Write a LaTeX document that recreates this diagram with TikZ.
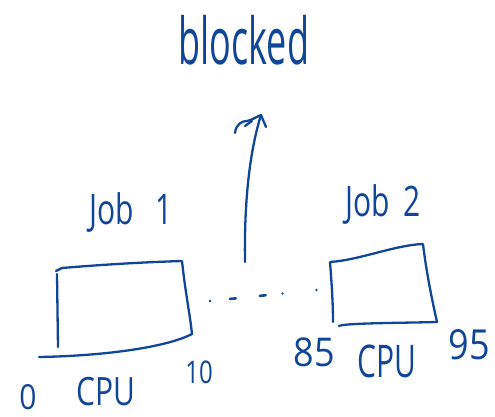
\documentclass[tikz,border=0pt]{standalone}
\usepackage{fontspec}
\setmainfont{Open Sans}
\usetikzlibrary{arrows.meta}
\definecolor{ink}{RGB}{16,70,150}
\newcommand{\hw}[3]{{\fontsize{#1}{#1}\selectfont\scalebox{1}[#2]{#3}}}
\begin{document}
\begin{tikzpicture}[x=1pt,y=-1pt, color=ink, line width=2.3pt, line cap=round, line join=round,
  lbl/.style={text=ink, inner sep=0pt, anchor=center},
  sketch/.style={draw=ink, line width=2.3pt},
  dotline/.style={draw=ink, line width=2.6pt, dash pattern=on 0pt off 20pt on 6pt off 24pt on 6pt off 17pt on 0pt off 34pt on 0pt off 40pt}]
\useasboundingbox (0,0) rectangle (495,417);
% texts
\node[lbl] (blocked) at (244,40) {\hw{36}{1.8}{blocked}};
\node[lbl] (job1) at (131,212) {\hw{30}{1.4}{Job\hspace{22pt}1}};
\node[lbl] (job2) at (383,204) {\hw{30}{1.4}{Job\hspace{14pt}2}};
\node[lbl] (zero) at (28,397) {\hw{30}{1.15}{0}};
\node[lbl] (cpu1) at (106,392) {\hw{30}{1.3}{CPU}};
\node[lbl] (ten) at (199,372) {\hw{24}{1.3}{10}};
\node[lbl] (e85) at (314,352) {\hw{36}{1.1}{85}};
\node[lbl] (cpu2) at (387,361) {\hw{30}{1.5}{CPU}};
\node[lbl] (n95) at (469,345) {\hw{36}{1.15}{95}};
% box 1
\draw[sketch] (57,274) -- (58,347);
\draw[sketch] (56,271) -- (62,268) .. controls (110,264) and (150,262) .. (182,261) .. controls (185,290) and (190,315) .. (192,334);
\draw[sketch] (39,357) .. controls (100,356) and (165,348) .. (192,334);
% box 2
\draw[sketch] (333,322) .. controls (333,300) and (331,275) .. (330,262) .. controls (360,260) and (395,245) .. (423,244) .. controls (426,270) and (432,300) .. (437,322);
\draw[sketch] (339,326) .. controls (345,323) and (400,323) .. (437,322);
% connector between boxes
\coordinate (d1) at (210,301);
\coordinate (d2) at (317,290);
\draw[dotline] (d1) -- (d2);
% arrow to blocked
\coordinate (abase) at (245,262);
\coordinate (atip) at (261,115);
\draw[sketch] (abase) .. controls (244,200) and (250,150) .. (atip);
\draw[sketch] (235,133) .. controls (236,124) and (242,121) .. (247,121) .. controls (252,120) and (256,117) .. (atip) -- (266,127);
\draw[sketch] (245,126) -- (252,121);
\end{tikzpicture}
\end{document}
